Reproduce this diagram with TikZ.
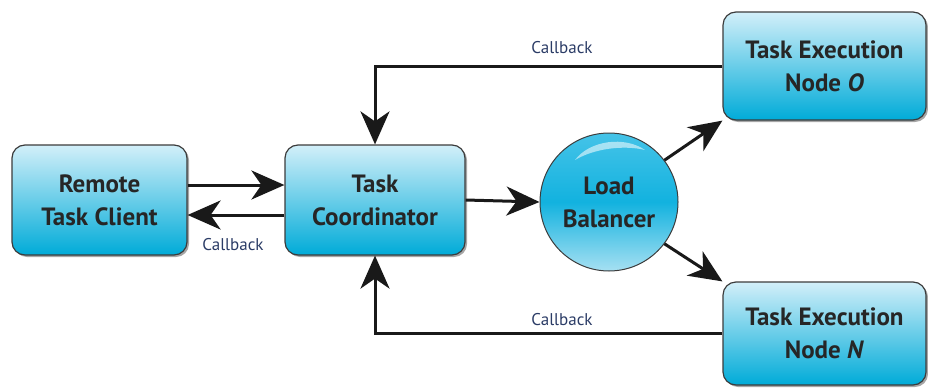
\documentclass[tikz,border=0pt]{standalone}
\usepackage{fontspec}
\setmainfont{PT Sans}
\usetikzlibrary{arrows.meta,shadows,calc}
\definecolor{boxtop}{HTML}{D2EFF9}
\definecolor{boxbot}{HTML}{00ABD8}
\definecolor{edgec}{HTML}{3C3C3C}
\definecolor{cbtext}{HTML}{2B3C66}
\definecolor{balltop}{HTML}{45C3E8}
\definecolor{ballmid}{HTML}{12B2DF}
\definecolor{ballbot}{HTML}{A6E0F2}
\begin{document}
\begin{tikzpicture}[x=1pt,y=-1pt,
  box/.style={draw=edgec, line width=1.2pt, rounded corners=13pt,
    top color=boxtop, bottom color=boxbot, align=center,
    font=\fontsize{25}{33}\selectfont\bfseries, text=black!85,
    drop shadow={shadow xshift=2pt, shadow yshift=-2pt, opacity=0.35, fill=black}},
  ball/.style={draw=edgec, line width=1pt, circle, minimum size=138pt, inner sep=0pt,
    top color=balltop, bottom color=ballbot, middle color=ballmid, align=center,
    font=\fontsize{25}{33}\selectfont\bfseries, text=black!85},
  arr/.style={line width=3pt, draw=black!90, -{Stealth[length=33pt,width=29pt,inset=10pt]}},
  cb/.style={font=\fontsize{17}{20}\selectfont, text=cbtext}]
\useasboundingbox (0,0) rectangle (928,388);
\node[box, minimum width=175pt, minimum height=110pt] (rtc) at (99.5,200) {Remote\\Task Client};
\node[box, minimum width=180pt, minimum height=110pt] (tc) at (375,200) {Task\\Coordinator};
\node[ball] (lb) at (609,202) {Load\\Balancer};
\node[box, minimum width=203pt, minimum height=108pt] (teo) at (824.5,66) {Task Execution\\Node \textit{O}};
\node[box, minimum width=203pt, minimum height=103pt] (ten) at (824.5,333.5) {Task Execution\\Node \textit{N}};
\fill[white, opacity=0.55] (575,160) .. controls (590,140) and (625,136) .. (645,150) .. controls (625,145) and (595,148) .. (575,160) -- cycle;
\coordinate (ya) at (0,185);
\coordinate (yb) at (0,215);
\draw[arr] (rtc.east |- ya) -- (tc.west |- ya);
\draw[arr] (tc.west |- yb) -- (rtc.east |- yb);
\draw[arr] (tc.east) -- (lb.west);
\draw[arr] (lb.37) -- (teo.south west);
\draw[arr] (lb.-37) -- (ten.north west);
\draw[arr] (teo.west) -| (tc.north);
\draw[arr] (ten.west) -| (tc.south);
\node[cb] (cb1) at (233,245) {Callback};
\node[cb] (cb2) at (562,48) {Callback};
\node[cb] (cb3) at (562,320) {Callback};
\end{tikzpicture}
\end{document}
